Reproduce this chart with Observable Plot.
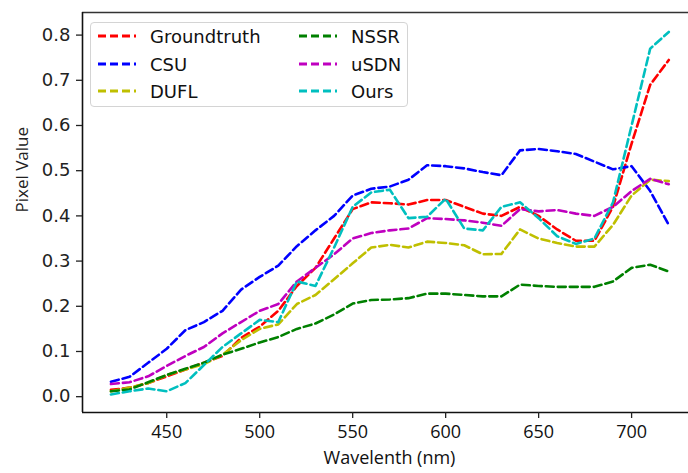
<!DOCTYPE html>
<html>
<head>
<meta charset="utf-8">
<script src="https://cdn.jsdelivr.net/npm/d3@7"></script>
<script src="https://cdn.jsdelivr.net/npm/@observablehq/plot@0.6"></script>
<style>
  html, body { margin: 0; padding: 0; background: #fff; }
  #wrap { position: relative; width: 688px; height: 473px; }
  #legend { position: absolute; left: 90px; top: 22px; width: 318px; height: 85px;
    border: 1px solid #d4d4d4; border-radius: 4px; background: rgba(255,255,255,0.8);
    font-family: "DejaVu Sans", sans-serif; font-size: 18px; color: #111; box-sizing: border-box; }
  .item { position: absolute; height: 20px; display: flex; align-items: center; }
  .item svg { margin-right: 14px; }
</style>
</head>
<body>
<div id="wrap"><div id="legend"></div></div>
<script>
const wavelengths = [420,430,440,450,460,470,480,490,500,510,520,530,540,550,560,570,580,590,600,610,620,630,640,650,660,670,680,690,700,710,720];
const seriesNames = ["Groundtruth", "CSU", "DUFL", "NSSR", "uSDN", "Ours"];
const seriesColors = ["#ff0000", "#0000ff", "#bfbf00", "#008000", "#bf00bf", "#00bfbf"];
const groundtruth = [0.015,0.02,0.03,0.045,0.06,0.075,0.09,0.13,0.155,0.19,0.245,0.285,0.35,0.415,0.43,0.428,0.425,0.435,0.435,0.42,0.405,0.40,0.42,0.40,0.37,0.345,0.345,0.42,0.56,0.69,0.745];
const csu = [0.033,0.044,0.075,0.106,0.147,0.165,0.19,0.237,0.265,0.29,0.333,0.368,0.40,0.445,0.46,0.465,0.48,0.512,0.51,0.505,0.497,0.49,0.545,0.548,0.543,0.537,0.52,0.503,0.51,0.455,0.38];
const dufl = [0.012,0.02,0.03,0.048,0.06,0.072,0.093,0.125,0.15,0.16,0.205,0.225,0.26,0.295,0.33,0.336,0.33,0.343,0.34,0.335,0.315,0.316,0.37,0.35,0.34,0.332,0.332,0.38,0.445,0.48,0.477];
const nssr = [0.012,0.016,0.032,0.048,0.062,0.075,0.093,0.106,0.12,0.132,0.15,0.162,0.182,0.206,0.214,0.215,0.218,0.228,0.228,0.225,0.222,0.222,0.248,0.245,0.243,0.243,0.243,0.255,0.285,0.292,0.277];
const usdn = [0.028,0.032,0.045,0.068,0.09,0.11,0.14,0.165,0.19,0.205,0.255,0.285,0.315,0.35,0.362,0.368,0.372,0.395,0.393,0.39,0.385,0.378,0.415,0.41,0.413,0.405,0.40,0.42,0.455,0.482,0.47];
const ours = [0.005,0.012,0.018,0.012,0.03,0.07,0.11,0.14,0.17,0.165,0.255,0.245,0.33,0.42,0.452,0.458,0.395,0.398,0.438,0.372,0.368,0.42,0.43,0.395,0.355,0.338,0.35,0.43,0.6,0.77,0.807];
const xTicks = [450, 500, 550, 600, 650, 700];
const yTicks = [0.0, 0.1, 0.2, 0.3, 0.4, 0.5, 0.6, 0.7, 0.8];
const xDomain = [404.7, 730.6];
const yDomain = [-0.035, 0.85];
const xLabel = "Wavelenth (nm)";
const yLabel = "Pixel Value";

const allSeries = [groundtruth, csu, dufl, nssr, usdn, ours];
const rows = [];
allSeries.forEach((vals, i) => vals.forEach((v, j) => rows.push({series: seriesNames[i], wl: wavelengths[j], v})));

const chart = Plot.plot({
  width: 688, height: 473,
  marginLeft: 82, marginRight: 0, marginTop: 12, marginBottom: 61,
  x: {domain: xDomain},
  y: {domain: yDomain},
  color: {domain: seriesNames, range: seriesColors},
  marks: [
    Plot.line(rows, {x: "wl", y: "v", z: "series", stroke: "series", strokeWidth: 2.6, strokeDasharray: "8,4"}),
    Plot.ruleY([yDomain[0]], {stroke: "#111", strokeWidth: 1.6}),
    Plot.ruleY([yDomain[1]], {stroke: "#333", strokeWidth: 1.6}),
    Plot.ruleX([xDomain[0]], {stroke: "#111", strokeWidth: 1.6}),
    Plot.axisX({ticks: xTicks, tickSize: 6, tickPadding: 7, label: null, fontSize: 18, fontFamily: "Open Sans", stroke: "#222", strokeWidth: 1.3, color: "#111"}),
    Plot.axisY({ticks: yTicks, tickSize: 6, tickPadding: 6, label: null, fontSize: 18, fontFamily: "DejaVu Sans", tickFormat: d3.format(".1f"), strokeWidth: 1.3, color: "#222"}),
    Plot.text([xLabel], {text: d => d, frameAnchor: "bottom", dy: 51, dx: 4, fontSize: 18, fontFamily: "Open Sans", fill: "#111"}),
    Plot.text([yLabel], {text: d => d, frameAnchor: "left", dx: -60, rotate: -90, fontSize: 17, fontFamily: "Open Sans", fill: "#222"})
  ]
});
const wrap = document.getElementById("wrap");
wrap.insertBefore(chart, wrap.firstChild);

const legend = document.getElementById("legend");
const colLeft = [7, 208];
const rowTop = [3, 31, 58];
seriesNames.forEach((name, i) => {
  const col = Math.floor(i / 3), row = i % 3;
  const div = document.createElement("div");
  div.className = "item";
  div.style.left = colLeft[col] + "px";
  div.style.top = rowTop[row] + "px";
  div.innerHTML = `<svg width="38" height="6"><line x1="0" y1="3" x2="38" y2="3" stroke="${seriesColors[i]}" stroke-width="3" stroke-dasharray="8,4"/></svg><span>${name}</span>`;
  legend.appendChild(div);
});
</script>
</body>
</html>
